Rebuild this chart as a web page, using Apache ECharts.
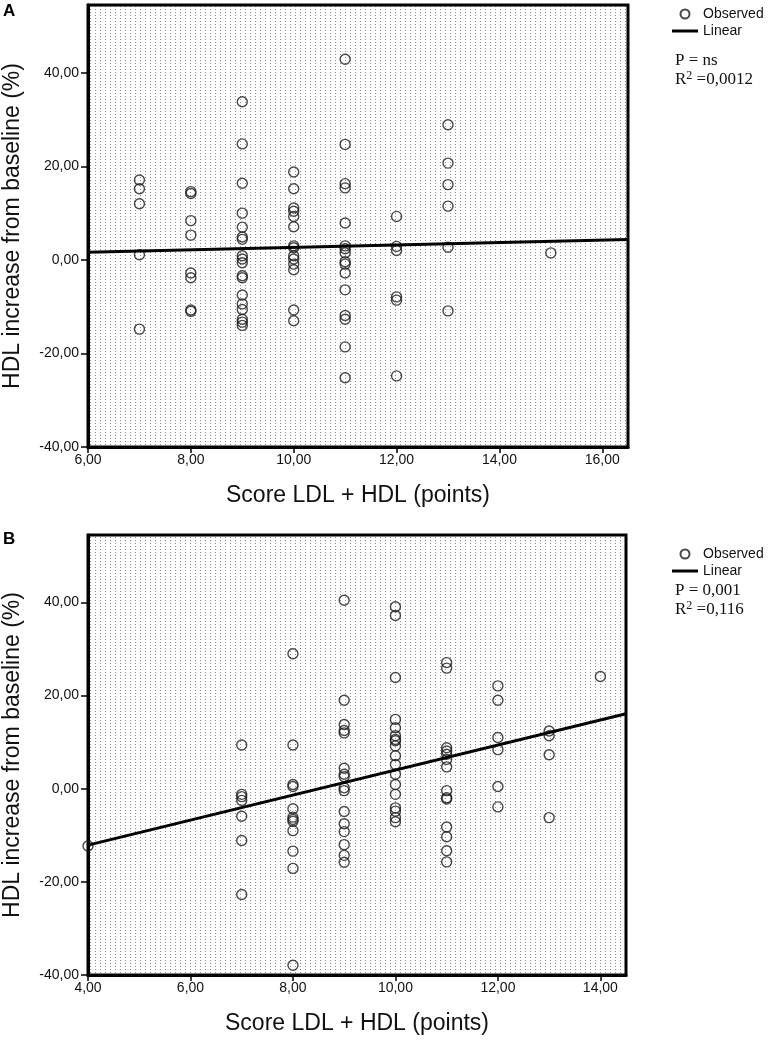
<!DOCTYPE html>
<html><head><meta charset="utf-8">
<script src="https://cdn.jsdelivr.net/npm/echarts@6/dist/echarts.min.js"></script>
<style>html,body{margin:0;padding:0;background:#fff}#c{width:768px;height:1043px}</style>
</head><body><div id="c"></div>
<script>
// ---- tick labels ----
const xTicksA = [6, 8, 10, 12, 14, 16];
const xTicksB = [4, 6, 8, 10, 12, 14];
const yTicks = [-40, -20, 0, 20, 40];

// ---- Panel A: score -> HDL increase (%) ----
const scoresA = [7, 8, 9, 10, 11, 12, 13, 15];
const hdlA7 = [17.1, 15.2, 12.0, 1.1, -14.8];
const hdlA8 = [14.6, 14.2, 8.4, 5.3, -2.8, -3.8, -10.7, -11.0];
const hdlA9 = [33.8, 24.8, 16.4, 10.0, 7.0, 4.9, 4.4, 0.9, 0.2, -0.6, -3.4, -3.8, -7.5, -9.4, -10.6, -12.7, -13.3, -14.0];
const hdlA10 = [18.8, 15.2, 11.1, 10.4, 9.3, 7.1, 3.0, 2.6, 0.9, 0.2, -0.9, -2.1, -10.7, -13.0];
const hdlA11 = [42.9, 24.7, 16.3, 15.4, 7.9, 3.0, 2.4, 1.5, -0.4, -0.9, -2.8, -6.4, -11.9, -12.7, -18.6, -25.2];
const hdlA12 = [9.3, 2.9, 2.0, -7.9, -8.6, -24.8];
const hdlA13 = [28.9, 20.7, 16.1, 11.5, 2.7, -10.9];
const hdlA15 = [1.5];
const hdlA = [hdlA7, hdlA8, hdlA9, hdlA10, hdlA11, hdlA12, hdlA13, hdlA15];
const fitAx = [6, 16.5];
const fitAy = [1.65, 4.34];

// ---- Panel B ----
const scoresB = [4, 7, 8, 9, 10, 11, 12, 13, 14];
const hdlB4 = [-12.3];
const hdlB7 = [9.4, -1.2, -1.7, -2.5, -5.9, -11.1, -22.7];
const hdlB8 = [29.0, 9.4, 0.9, 0.5, -4.3, -6.1, -6.6, -7.0, -9.0, -13.4, -17.1, -37.9];
const hdlB9 = [40.5, 19.0, 13.8, 12.5, 12.0, 4.4, 3.1, 2.6, 0.2, -0.4, -4.9, -7.5, -9.2, -12.0, -14.3, -15.8];
const hdlB10 = [39.1, 37.2, 23.9, 14.9, 13.1, 11.4, 10.6, 10.3, 9.2, 7.1, 5.2, 3.1, 0.9, -1.2, -4.1, -4.8, -6.2, -7.1];
const hdlB11 = [27.1, 25.9, 8.8, 8.1, 7.4, 6.3, 4.7, -0.4, -1.9, -2.2, -8.2, -10.3, -13.3, -15.7];
const hdlB12 = [22.1, 19.0, 11.0, 8.4, 0.5, -3.9];
const hdlB13 = [12.4, 11.4, 7.3, -6.2];
const hdlB14 = [24.1];
const hdlB = [hdlB4, hdlB7, hdlB8, hdlB9, hdlB10, hdlB11, hdlB12, hdlB13, hdlB14];
const fitBx = [4, 14.5];
const fitBy = [-12.1, 16.1];

function pairs(scores, groups) {
  const out = [];
  scores.forEach((s, i) => groups[i].forEach(v => out.push([s, v])));
  return out;
}
const fmt = v => v.toFixed(2).replace('.', ',');

const pc = document.createElement('canvas');
pc.width = 5; pc.height = 3;
const g = pc.getContext('2d');
g.fillStyle = '#ffffff'; g.fillRect(0, 0, 5, 3);
g.fillStyle = '#8c8c8c'; g.fillRect(0, 0, 1, 1);
const pattern = { image: pc, repeat: 'repeat' };

const FONT = 'Liberation Sans, Arial, sans-serif';
const SERIF = 'Liberation Serif, Times New Roman, serif';

function gridCfg(top, height, width) {
  return { left: 88, top: top, width: width, height: height, show: true,
    borderColor: '#000', borderWidth: 3, backgroundColor: pattern,
    containLabel: false, outerBoundsMode: 'none' };
}
function xAxisCfg(idx, min, max, ticks) {
  return { type: 'value', gridIndex: idx, min: min, max: max, interval: 2,
    name: 'Score LDL + HDL (points)', nameLocation: 'middle', nameGap: 37,
    nameTextStyle: { fontSize: 23, fontFamily: FONT, color: '#111' },
    axisLine: { show: true, onZero: false, lineStyle: { color: '#000', width: 3 } },
    axisTick: { show: true, length: 6, customValues: ticks, lineStyle: { color: '#000', width: 1.5 } },
    axisLabel: { customValues: ticks, formatter: fmt, margin: 6, fontSize: 14, fontFamily: FONT, color: '#111' },
    splitLine: { show: false } };
}
function yAxisCfg(idx) {
  return { type: 'value', gridIndex: idx, min: -40, max: 54.5, interval: 20,
    name: 'HDL increase from baseline (%)', nameLocation: 'middle', nameGap: 64,
    nameTextStyle: { fontSize: 23, fontFamily: FONT, color: '#111' },
    axisLine: { show: true, onZero: false, lineStyle: { color: '#000', width: 3 } },
    axisTick: { show: true, length: 7, customValues: yTicks, lineStyle: { color: '#000', width: 1.5 } },
    axisLabel: { customValues: yTicks, formatter: fmt, margin: 9, fontSize: 14, fontFamily: FONT, color: '#111' },
    splitLine: { show: false } };
}
function scatterCfg(idx, data) {
  return { name: 'Observed', type: 'scatter', xAxisIndex: idx, yAxisIndex: idx, data: data,
    symbol: 'circle', symbolSize: 10, z: 2,
    itemStyle: { color: 'rgba(255,255,255,0)', borderColor: '#1a1a1a', borderWidth: 1.4 } };
}
function lineCfg(idx, xs, ys) {
  return { name: 'Linear', type: 'line', xAxisIndex: idx, yAxisIndex: idx,
    data: xs.map((x, i) => [x, ys[i]]), symbol: 'none', z: 3,
    lineStyle: { color: '#000', width: 3 }, itemStyle: { color: '#000' } };
}
function legendCfg(top) {
  return { orient: 'vertical', left: 667, top: top, itemWidth: 26, itemHeight: 9, itemGap: 3,
    selectedMode: false,
    data: [{ name: 'Observed' }, { name: 'Linear', icon: 'path://M0,0 H26 V3 H0 Z' }],
    textStyle: { fontSize: 14, fontFamily: FONT, color: '#111' } };
}
function statCfg(top, p, r) {
  return { left: 675, top: top, padding: 0, text: p + '\n' + r,
    textStyle: { fontSize: 17, fontWeight: 'normal', fontFamily: SERIF, color: '#111', lineHeight: 19,
      rich: { sup: { fontSize: 12, fontFamily: SERIF, color: '#111', verticalAlign: 'top', lineHeight: 12 } } } };
}

const chart = echarts.init(document.getElementById('c'), null, { renderer: 'canvas' });
chart.setOption({
  animation: false,
  backgroundColor: '#fff',
  title: [
    { text: 'A', left: 3, top: 3, padding: 0, textStyle: { fontSize: 17, fontWeight: 'bold', fontFamily: FONT, color: '#000' } },
    { text: 'B', left: 3, top: 531, padding: 0, textStyle: { fontSize: 17, fontWeight: 'bold', fontFamily: FONT, color: '#000' } },
    statCfg(51, 'P = ns', 'R{sup|2} =0,0012'),
    statCfg(581, 'P = 0,001', 'R{sup|2} =0,116')
  ],
  legend: [legendCfg(2), legendCfg(542)],
  grid: [gridCfg(5, 442, 540), gridCfg(535, 440, 538)],
  xAxis: [xAxisCfg(0, 6, 16.5, xTicksA), xAxisCfg(1, 4, 14.5, xTicksB)],
  yAxis: [yAxisCfg(0), yAxisCfg(1)],
  series: [
    scatterCfg(0, pairs(scoresA, hdlA)),
    lineCfg(0, fitAx, fitAy),
    scatterCfg(1, pairs(scoresB, hdlB)),
    lineCfg(1, fitBx, fitBy)
  ]
});
</script></body></html>
